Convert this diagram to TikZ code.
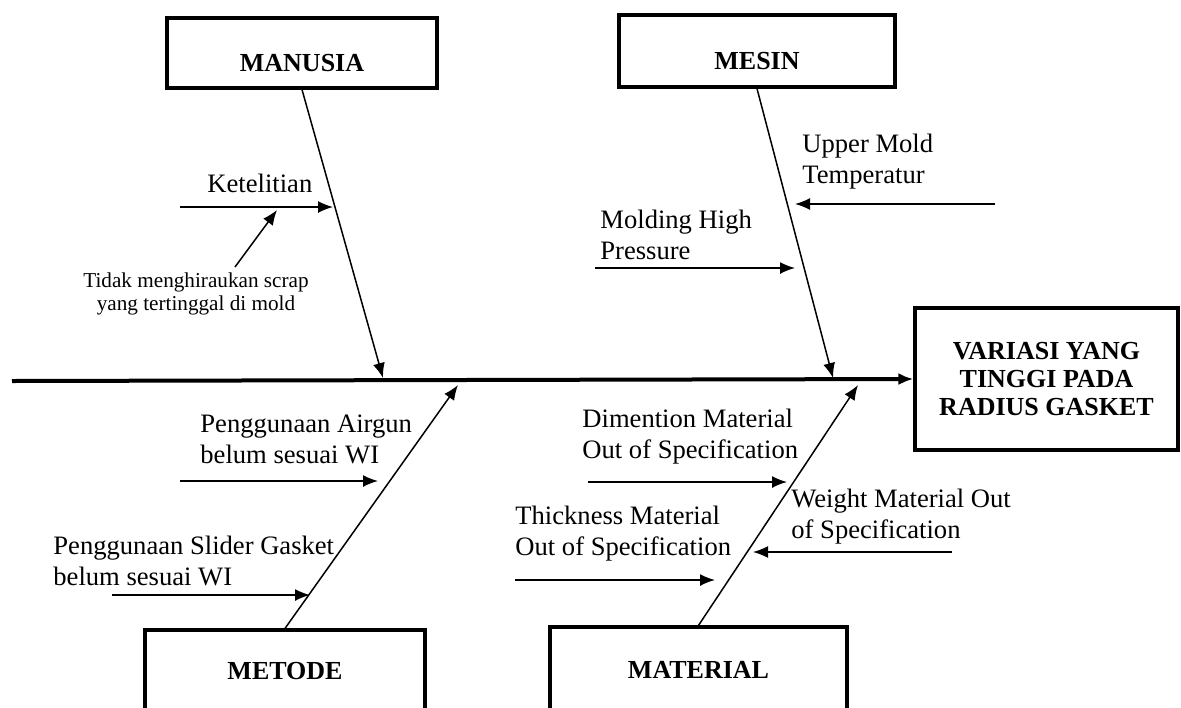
\documentclass[tikz,border=0pt]{standalone}
\usepackage{fontspec}
\setmainfont{Liberation Serif}
\usetikzlibrary{arrows.meta}

\newcommand*{\ymain}{381}
\newcommand*{\xtail}{12}

\begin{document}
\begin{tikzpicture}[x=0.5pt,y=-0.5pt,
	cause/.style={draw,line width=1.6pt,inner sep=0pt,font=\fontsize{13}{17}\selectfont\bfseries},
	topcause/.style={cause,text height=18.6pt,text depth=0pt},
	reason/.style={anchor=west,align=left,inner sep=0pt,font=\fontsize{13.3}{15.5}\selectfont},
	branch/.style={-{Latex[length=7.5pt,width=6pt]},line width=0.75pt}]

	\useasboundingbox (0,0) rectangle (1181,707);

	% effect and main bone
	\node[cause,minimum width=131.5pt,minimum height=71pt,align=center,font=\fontsize{13}{13.8}\selectfont\bfseries] (effect) at (1046.5,379) {VARIASI YANG\\TINGGI PADA\\RADIUS GASKET};
	\coordinate (head) at (\xtail,\ymain);
	\draw[branch,line width=2pt] (head) -- (effect.west);

	% categories
	\node[topcause,minimum width=135pt,minimum height=35pt] (manusia) at (302,53) {MANUSIA};
	\node[topcause,minimum width=138pt,minimum height=36pt] (mesin) at (757,51) {MESIN};
	\node[cause,minimum width=140pt,minimum height=41pt] (metode) at (285,671) {METODE};
	\node[cause,minimum width=148.5pt,minimum height=42.5pt] (material) at (698.5,669.5) {MATERIAL};

	\coordinate (manusiaend) at (383,378);
	\coordinate (mesinend) at (833,378);
	\coordinate (metodeend) at (458,385);
	\coordinate (materialend) at (858,385);

	\draw[branch] (manusia.south) -- (manusiaend);
	\draw[branch] (mesin.south) -- (mesinend);
	\draw[branch] (metode.north) -- (metodeend);
	\draw[branch] (material.north) -- (materialend);

	% manusia
	\node[reason] (ketelitian) at (207,183) {Ketelitian};
	\node[inner sep=0pt,align=center,font=\fontsize{10.6}{11.5}\selectfont] (scrap) at (196,293.5) {Tidak menghiraukan scrap\\yang tertinggal di mold};
	\coordinate (ketelitianA) at (180,207);
	\coordinate (ketelitianB) at (333,207);
	\coordinate (scrapA) at (235,267);
	\coordinate (scrapB) at (277,210);
	\draw[branch] (ketelitianA) -- (ketelitianB);
	\draw[branch] (scrapA) -- (scrapB);

	% mesin
	\node[reason] (uppermold) at (802,162) {Upper Mold\\Temperatur};
	\node[reason] (molding) at (600,235) {Molding High\\Pressure};
	\coordinate (uppermoldA) at (995,204);
	\coordinate (uppermoldB) at (795,204);
	\coordinate (moldingA) at (595,268);
	\coordinate (moldingB) at (795,268);
	\draw[branch] (uppermoldA) -- (uppermoldB);
	\draw[branch] (moldingA) -- (moldingB);

	% metode
	\node[reason] (airgun) at (200,439) {Penggunaan Airgun\\belum sesuai WI};
	\node[reason] (slider) at (53,561) {Penggunaan Slider Gasket\\belum sesuai WI};
	\coordinate (airgunA) at (180,481);
	\coordinate (airgunB) at (378,481);
	\coordinate (sliderA) at (112,595);
	\coordinate (sliderB) at (310,595);
	\draw[branch] (airgunA) -- (airgunB);
	\draw[branch] (sliderA) -- (sliderB);

	% material
	\node[reason] (dimention) at (582,437) {Dimention Material\\Out of Specification};
	\node[reason] (thickness) at (515,534) {Thickness Material\\Out of Specification};
	\node[reason] (weight) at (791,517) {Weight Material Out\\of Specification};
	\coordinate (dimentionA) at (588,482);
	\coordinate (dimentionB) at (787,482);
	\coordinate (thicknessA) at (515,580);
	\coordinate (thicknessB) at (715,580);
	\coordinate (weightA) at (952,552);
	\coordinate (weightB) at (753,552);
	\draw[branch] (dimentionA) -- (dimentionB);
	\draw[branch] (thicknessA) -- (thicknessB);
	\draw[branch] (weightA) -- (weightB);

\end{tikzpicture}
\end{document}
